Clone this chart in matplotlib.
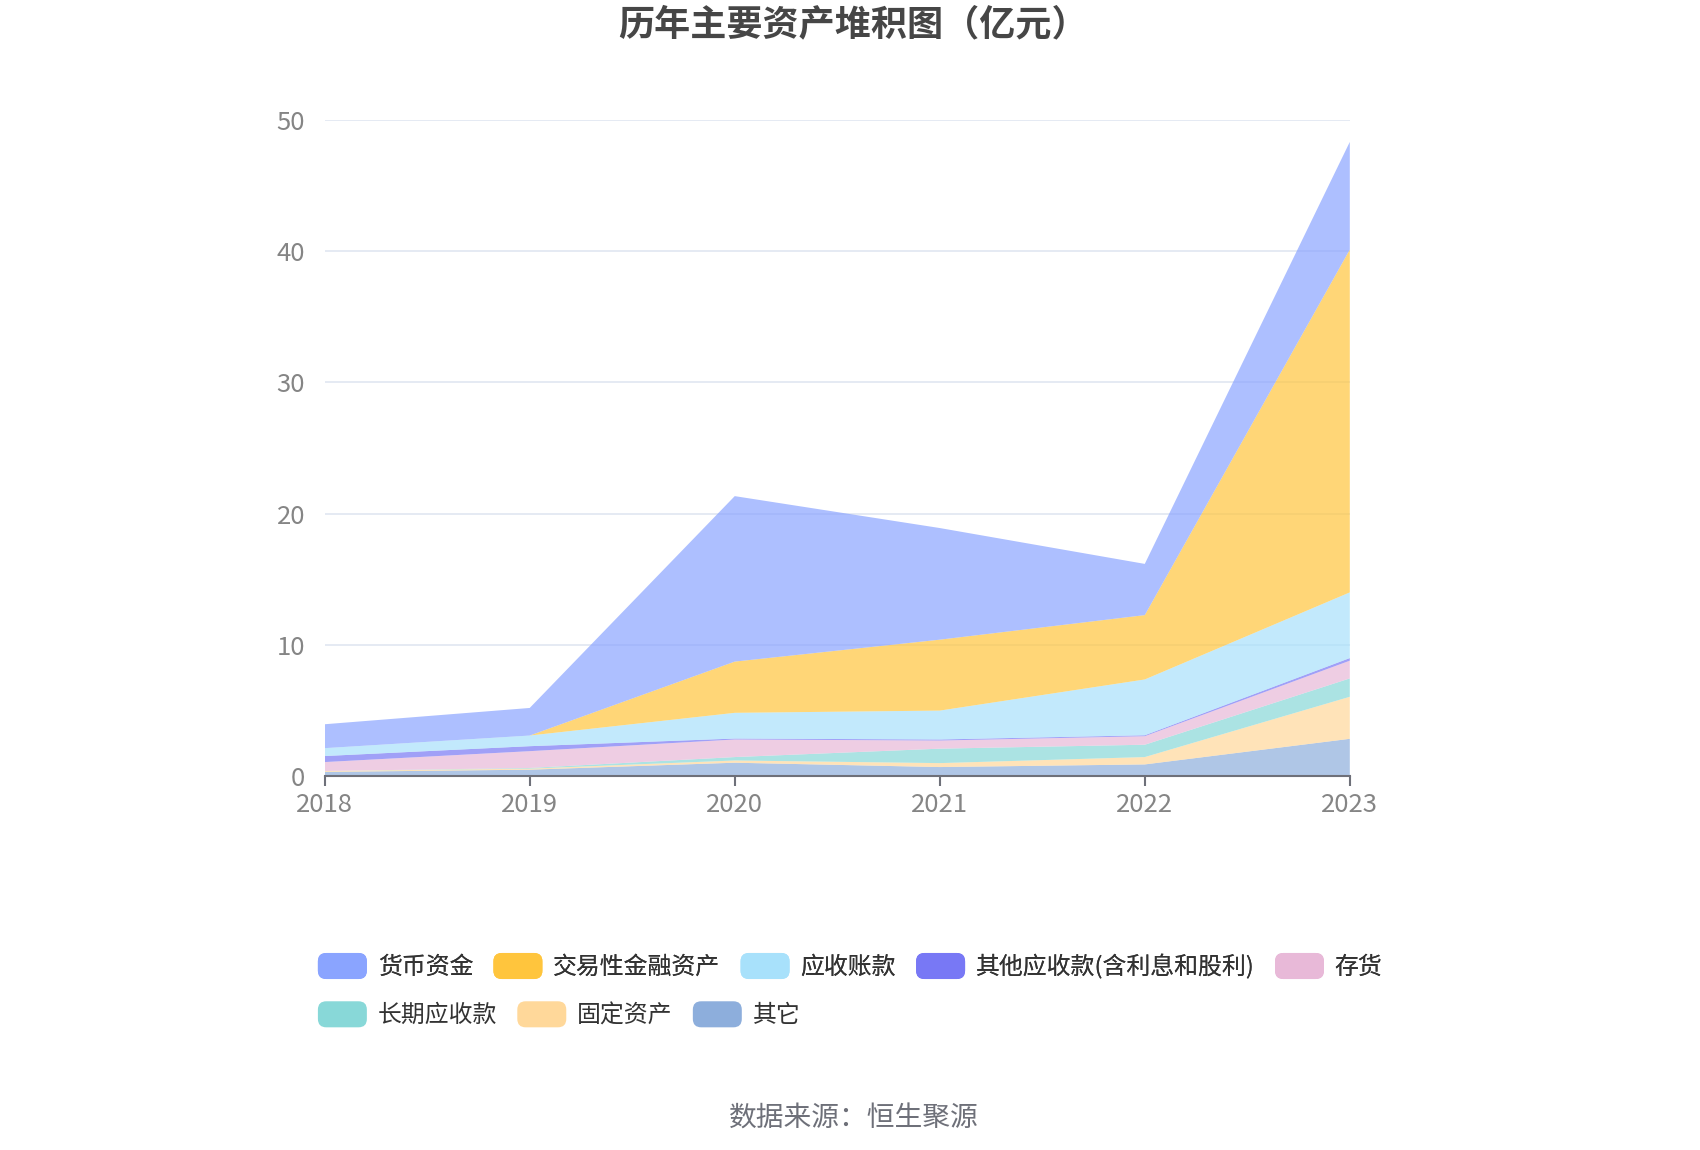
import matplotlib
matplotlib.use('Agg')
import matplotlib.pyplot as plt
from matplotlib.patches import FancyBboxPatch, Patch
from matplotlib.legend_handler import HandlerPatch

plt.rcParams['font.family'] = ['Noto Sans CJK SC', 'DejaVu Sans']

# years and stacked series (亿元), bottom to top
years = ['2018', '2019', '2020', '2021', '2022', '2023']
qita = [0.33, 0.50, 1.03, 0.70, 0.90, 2.85]
guding = [0.07, 0.08, 0.17, 0.30, 0.56, 3.20]
changqi = [0.00, 0.05, 0.26, 1.10, 0.94, 1.40]
cunhuo = [0.68, 1.28, 1.34, 0.62, 0.65, 1.35]
qita_ys = [0.46, 0.38, 0.07, 0.08, 0.07, 0.20]
yingshou = [0.60, 0.81, 1.96, 2.20, 4.25, 5.00]
jiaoyi = [0.00, 0.00, 3.90, 5.40, 4.90, 26.10]
huobi = [1.82, 2.10, 12.60, 8.50, 3.90, 8.20]

names = ['货币资金', '交易性金融资产', '应收账款', '其他应收款(含利息和股利)', '存货',
         '长期应收款', '固定资产', '其它']
colors = ['#8aa4ff', '#ffc53d', '#a8e1fb', '#7878f5', '#e8b9d8',
          '#88d8d8', '#ffd89a', '#8daedc']
series = [huobi, jiaoyi, yingshou, qita_ys, cunhuo, changqi, guding, qita]

fig = plt.figure(figsize=(17, 11.5), dpi=100)
ax = fig.add_axes([0.191, 0.325, 0.603, 0.571])

x = list(range(len(years)))
# stackplot goes bottom up, so reverse order
ax.stackplot(x, *series[::-1], colors=colors[::-1], alpha=0.7, linewidth=0)

ax.set_xlim(0, len(years) - 1)
ax.set_ylim(0, 50)
ax.set_yticks([0, 10, 20, 30, 40, 50])
ax.set_xticks(x)
ax.set_xticklabels(years)
ax.grid(axis='y', color='#e0e6f1', linewidth=1.2)
ax.set_axisbelow(True)
for s in ['top', 'right', 'left']:
    ax.spines[s].set_visible(False)
ax.spines['bottom'].set_color('#6e7079')
ax.spines['bottom'].set_linewidth(1.5)
ax.tick_params(axis='x', colors='#6e7079', length=7, width=1.5, labelsize=18.5,
               labelcolor='#858585', pad=4)
ax.tick_params(axis='y', length=0, labelsize=18.5, labelcolor='#858585', pad=14)

fig.text(0.502, 0.978, '历年主要资产堆积图（亿元）', ha='center', va='center',
         fontsize=26, fontweight='bold', color='#464646')
fig.text(0.502, 0.027, '数据来源：恒生聚源', ha='center', va='center',
         fontsize=20, color='#6e7079')


class RoundHandler(HandlerPatch):
    def create_artists(self, legend, orig_handle, xdescent, ydescent,
                       width, height, fontsize, trans):
        p = FancyBboxPatch((-xdescent, -ydescent), width, height,
                           boxstyle='round,pad=0,rounding_size=6',
                           facecolor=orig_handle.get_facecolor(),
                           edgecolor='none', transform=trans)
        return [p]


handles = [Patch(facecolor=c) for c in colors]
hm = {Patch: RoundHandler()}
leg_kw = dict(loc='center left', frameon=False, fontsize=17.2,
              handlelength=2.05, handleheight=1.3, handletextpad=0.45,
              columnspacing=0.85, handler_map=hm, labelcolor='#333333',
              borderaxespad=0, borderpad=0)
leg1 = fig.legend(handles[:5], names[:5], bbox_to_anchor=(0.187, 0.160),
                  ncol=5, **leg_kw)
leg2 = fig.legend(handles[5:], names[5:], bbox_to_anchor=(0.187, 0.118),
                  ncol=3, **leg_kw)
fig.add_artist(leg1)

fig.savefig('out.png', dpi=100)
